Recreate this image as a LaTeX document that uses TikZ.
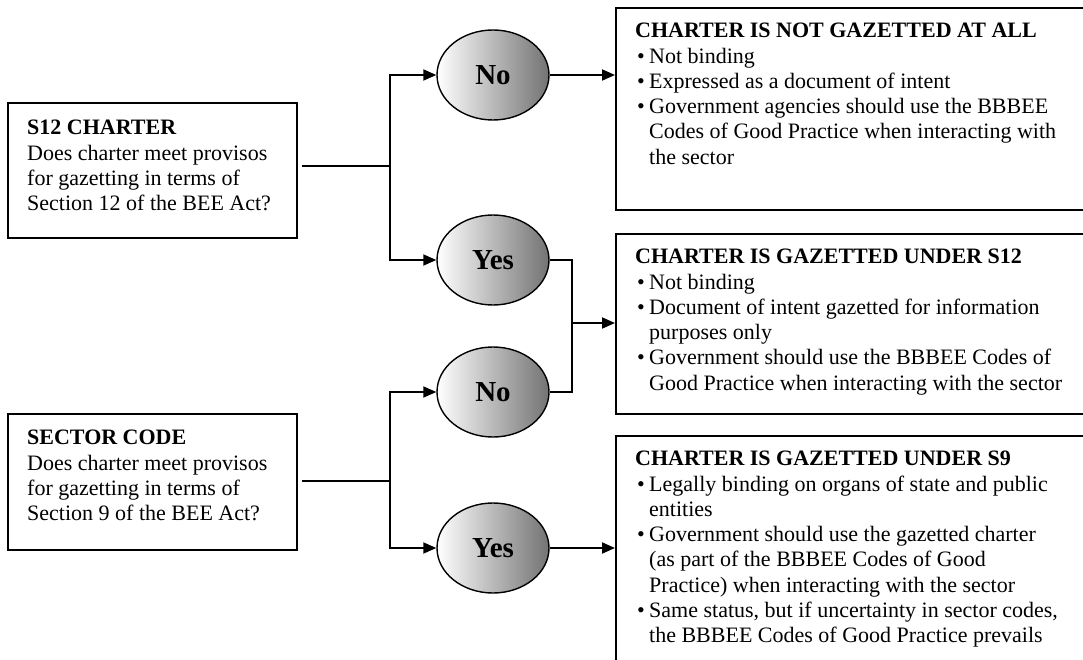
\documentclass[tikz,border=0pt]{standalone}
\usepackage{fontspec}
\setmainfont{Liberation Serif}
\usetikzlibrary{shapes.geometric,arrows.meta}
% bullet and hanging indent for the outcome lists
\newcommand{\blt}{\makebox[14pt][l]{\hspace{2pt}\textbullet}}
\newcommand{\cnt}{\hspace*{14pt}}
\begin{document}
\begin{tikzpicture}[x=1pt,y=-1pt,
  qbox/.style={draw, line width=1.8pt, anchor=north west, inner sep=0pt},
  obox/.style={draw, line width=1.8pt, anchor=north west, inner sep=0pt},
  txt/.style={anchor=north west, inner sep=0pt, align=left,
    font=\fontsize{22}{25.3}\selectfont},
  choice/.style={ellipse, draw, line width=1.4pt, minimum width=112pt,
    minimum height=90pt, inner sep=0pt, left color=white,
    right color=black!55, font=\fontsize{29}{30}\selectfont\bfseries},
  arr/.style={-{Triangle[length=13pt,width=11pt]}, line width=1.8pt},
  link/.style={line width=1.8pt}
]
\clip (0,0) rectangle (1083,660);

% question boxes
\node[qbox, minimum width=289pt, minimum height=135pt] (s12) at (7,102) {};
\node[txt] (s12t) at (27,120) {\textbf{S12 CHARTER}\\Does charter meet provisos\\for gazetting in terms of\\Section 12 of the BEE Act?};
\node[qbox, minimum width=289pt, minimum height=136pt] (sec) at (7,413) {};
\node[txt] (sect) at (27,430) {\textbf{SECTOR CODE}\\Does charter meet provisos\\for gazetting in terms of\\Section 9 of the BEE Act?};

% outcome boxes
\node[obox, minimum width=480pt, minimum height=202pt] (r1) at (615,7) {};
\node[txt] (r1t) at (635,23) {\textbf{CHARTER IS NOT GAZETTED AT ALL}\\
\blt Not binding\\
\blt Expressed as a document of intent\\
\blt Government agencies should use the BBBEE\\
\cnt Codes of Good Practice when interacting with\\
\cnt the sector};
\node[obox, minimum width=480pt, minimum height=180pt] (r2) at (615,233) {};
\node[txt] (r2t) at (635,249) {\textbf{CHARTER IS GAZETTED UNDER S12}\\
\blt Not binding\\
\blt Document of intent gazetted for information\\
\cnt purposes only\\
\blt Government should use the BBBEE Codes of\\
\cnt Good Practice when interacting with the sector};
\node[obox, minimum width=480pt, minimum height=260pt] (r3) at (615,435) {};
\node[txt] (r3t) at (635,451) {\textbf{CHARTER IS GAZETTED UNDER S9}\\
\blt Legally binding on organs of state and public\\
\cnt entities\\
\blt Government should use the gazetted charter\\
\cnt (as part of the BBBEE Codes of Good\\
\cnt Practice) when interacting with the sector\\
\blt Same status, but if uncertainty in sector codes,\\
\cnt the BBBEE Codes of Good Practice prevails};

% decisions
\node[choice] (no1) at (493,75) {No};
\node[choice] (yes1) at (493,260) {Yes};
\node[choice] (no2) at (493,392) {No};
\node[choice] (yes2) at (493,548) {Yes};

% branch points
\coordinate (ja) at (390,166);
\coordinate (jb) at (390,481);
\coordinate (jc) at (572,323);

% connectors
\draw[link] ([xshift=4pt]s12.east |- ja) -- (ja);
\draw[arr] (ja) |- (no1.west);
\draw[arr] (ja) |- (yes1.west);
\draw[arr] (no1.east) -- (no1.east -| r1.west);
\draw[link] (yes1.east) -| (jc) |- (no2.east);
\draw[arr] (jc) -- (jc -| r2.west);
\draw[link] ([xshift=4pt]sec.east |- jb) -- (jb);
\draw[arr] (jb) |- (no2.west);
\draw[arr] (jb) |- (yes2.west);
\draw[arr] (yes2.east) -- (yes2.east -| r3.west);
\end{tikzpicture}
\end{document}
